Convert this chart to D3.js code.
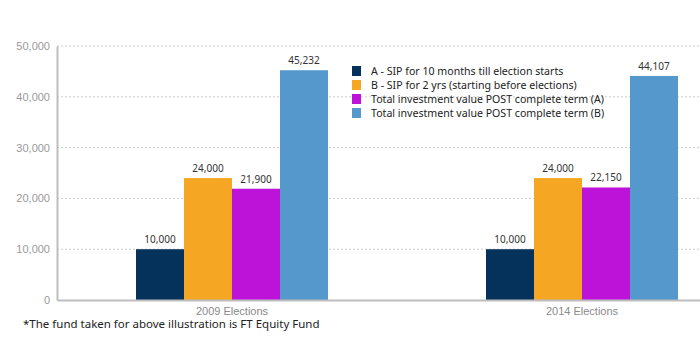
<!DOCTYPE html>
<html><head><meta charset="utf-8">
<script src="https://cdn.jsdelivr.net/npm/d3@7"></script>
<style>body{margin:0;background:#fff;}svg{display:block;font-family:"Noto Sans",sans-serif;}</style>
</head><body><svg id="c" width="700" height="350"></svg>
<script>
const categories = ["2009 Elections", "2014 Elections"];
const seriesNames = ["A - SIP for 10 months till election starts","B - SIP for 2 yrs (starting before elections)","Total investment value POST complete term (A)","Total investment value POST complete term (B)"];
const seriesA = [10000, 10000];
const seriesB = [24000, 24000];
const seriesPostA = [21900, 22150];
const seriesPostB = [45232, 44107];
const yTicks = [0, 10000, 20000, 30000, 40000, 50000];
const colors = ["#05325b", "#f5a623", "#bd12d8", "#5599cc"];
const footnote = "*The fund taken for above illustration is FT Equity Fund";

(function(){
const allSeries = [seriesA, seriesB, seriesPostA, seriesPostB];
const svg = d3.select("#c");
const mLeft = 57, mTop = 46, mBottom = 300, mRight = 757;
const x0 = d3.scaleBand().domain(categories).range([mLeft, mRight]).paddingInner(0).paddingOuter(0);
const groupW = 192;
const x1 = d3.scaleBand().domain(d3.range(4)).range([0, groupW]);
const y = d3.scaleLinear().domain([0, 50000]).range([mBottom, mTop]);
const fmt = d3.format(",");

svg.append("g").selectAll("line").data(yTicks.filter(d=>d>0)).join("line")
  .attr("x1", mLeft).attr("x2", 700).attr("y1", d=>y(d)).attr("y2", d=>y(d))
  .attr("stroke", "#cccccc").attr("stroke-dasharray", "2,2").attr("stroke-width", 1);

const yAxis = svg.append("g").attr("transform", `translate(${mLeft},0)`)
  .call(d3.axisLeft(y).tickValues(yTicks).tickFormat(fmt).tickSize(0).tickPadding(7));
yAxis.select(".domain").attr("stroke", "#bdbdbd").attr("stroke-width", 2);
yAxis.selectAll("text").attr("fill", "#9a9a9a").attr("font-size", 11);

const groups = svg.append("g").selectAll("g").data(categories).join("g")
  .attr("transform", c => `translate(${x0(c) + (x0.bandwidth() - groupW)/2},0)`);
groups.each(function(c, ci){
  const g = d3.select(this);
  allSeries.forEach((s, si) => {
    g.append("rect").attr("x", x1(si)).attr("width", x1.bandwidth())
      .attr("y", y(s[ci])).attr("height", y(0) - y(s[ci])).attr("fill", colors[si]);
    g.append("text").attr("x", x1(si) + x1.bandwidth()/2).attr("y", y(s[ci]) - 6)
      .attr("text-anchor", "middle").attr("font-size", 10).attr("fill", "#333").text(fmt(s[ci]));
  });
});

const xAxis = svg.append("g").attr("transform", `translate(0,${mBottom})`)
  .call(d3.axisBottom(x0).tickSize(0).tickPadding(7));
xAxis.select(".domain").attr("stroke", "#bdbdbd").attr("stroke-width", 2);
xAxis.selectAll("text").attr("fill", "#8a8a8a").attr("font-size", 11);

const lg = svg.append("g").attr("transform", "translate(352,66)");
seriesNames.forEach((n, i) => {
  lg.append("rect").attr("x", 0).attr("y", i*14).attr("width", 9).attr("height", 10).attr("fill", colors[i]);
  lg.append("text").attr("x", 19).attr("y", i*14 + 9).attr("font-size", 10.6).attr("fill", "#222").text(n);
});

svg.append("text").attr("x", 23).attr("y", 328).attr("font-size", 11.5).attr("fill", "#222").text(footnote);
})();
</script></body></html>
